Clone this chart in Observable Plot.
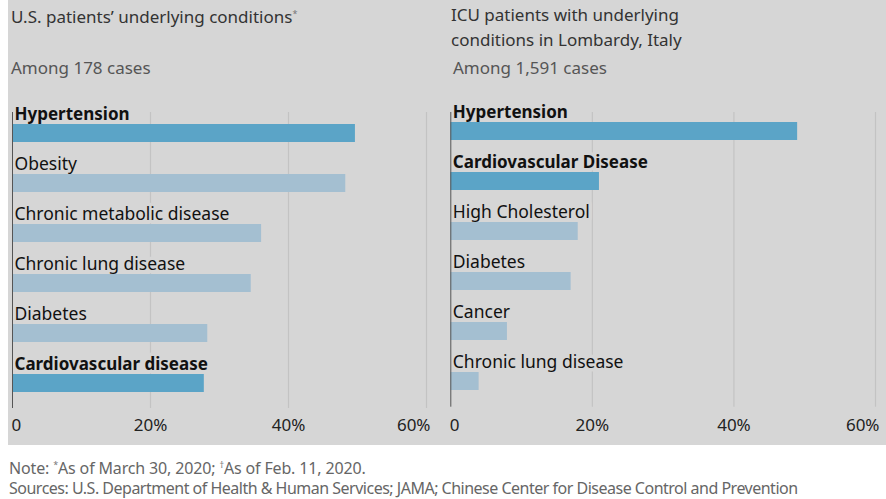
<!DOCTYPE html>
<html><head><meta charset="utf-8">
<script src="https://cdn.jsdelivr.net/npm/d3@7"></script>
<script src="https://cdn.jsdelivr.net/npm/@observablehq/plot@0.6"></script>
<style>
body{margin:0;font-family:"Noto Sans",sans-serif;background:#fff;width:886px;height:499px;overflow:hidden;position:relative;}
#bg{position:absolute;left:8px;top:0;width:878px;height:445px;background:#d6d6d6;}
.t{position:absolute;font-size:17px;line-height:25px;color:#333;white-space:nowrap;}
.s{color:#555;}
.n{position:absolute;left:9px;font-size:16px;line-height:20px;color:#666;white-space:nowrap;}
sup{font-size:9px;vertical-align:6px;line-height:0;color:#777;}
.p{position:absolute;top:90px;}
</style></head><body>
<div id="bg"></div>
<div class="t" style="left:11px;top:4px">U.S. patients’ underlying conditions<sup>*</sup></div>
<div class="t s" style="left:11px;top:55px">Among 178 cases</div>
<div class="t" style="left:451px;top:2px">ICU patients with underlying<br>conditions in Lombardy, Italy</div>
<div class="t s" style="left:453px;top:55px">Among 1,591 cases</div>
<div class="p" id="left" style="left:0px"></div>
<div class="p" id="right" style="left:440px"></div>
<div class="n" style="top:458px;letter-spacing:-0.15px">Note: <sup>*</sup>As of March 30, 2020; <sup>†</sup>As of Feb. 11, 2020.</div>
<div class="n" style="top:478px;letter-spacing:-0.5px">Sources: U.S. Department of Health &amp; Human Services; JAMA; Chinese Center for Disease Control and Prevention</div>
<script>
const usConditions = ["Hypertension","Obesity","Chronic metabolic disease","Chronic lung disease","Diabetes","Cardiovascular disease"];
const usValues = [49.7,48.3,36.1,34.6,28.3,27.8];
const usHighlight = [true,false,false,false,false,true];
const itConditions = ["Hypertension","Cardiovascular Disease","High Cholesterol","Diabetes","Cancer","Chronic lung disease"];
const itValues = [49,21,18,17,8,4];
const itHighlight = [true,true,false,false,false,false];
const xTicks = [0,20,40,60];

const BG = "#d6d6d6";
function panel(conds, vals, hl, o) {
  const data = conds.map((c,i)=>({c, v: vals[i], hl: hl[i]}));
  const fmt = d => d === 0 ? "0" : d + "%";
  const lab = (bold) => Plot.text(data.filter(d=>d.hl===bold), {
    x: 0, y: "c", text: "c", textAnchor: "start", lineAnchor: "bottom",
    dx: 2, dy: -13.5, fontSize: bold ? 17 : 17.5, fontWeight: bold ? "bold" : "normal",
    fill: "#111", stroke: BG, strokeWidth: 7, paintOrder: "stroke"
  });
  return Plot.plot({
    width: o.width, height: 350,
    marginLeft: o.ml, marginRight: o.mr, marginTop: 22, marginBottom: o.mb,
    style: {fontFamily: "Noto Sans", background: "transparent", overflow: "visible"},
    x: {domain: [0, 60], axis: null},
    y: {domain: conds, range: o.yr, paddingInner: 0.643, paddingOuter: 0, axis: null},
    marks: [
      Plot.ruleX(xTicks.filter(d=>d>0), {stroke: "#c3c3c3", strokeWidth: 1.2}),
      lab(true), lab(false),
      Plot.barX(data, {x: "v", y: "c", fill: d => d.hl ? "#5ba4c7" : "#a4bfd1"}),
      Plot.ruleX([0], {stroke: "#555", strokeWidth: 1}),
      Plot.text(xTicks.slice(0,1), {x: d=>d, text: fmt, frameAnchor: "bottom", lineAnchor: "bottom", textAnchor: "start", dx: -1, dy: o.tdy, fontSize: 17, fill: "#222"}),
      Plot.text(xTicks.slice(1,-1), {x: d=>d, text: fmt, frameAnchor: "bottom", lineAnchor: "bottom", textAnchor: "middle", dy: o.tdy, fontSize: 17, fill: "#222"}),
      Plot.text(xTicks.slice(-1), {x: d=>d, text: fmt, frameAnchor: "bottom", lineAnchor: "bottom", textAnchor: "end", dx: 4, dy: o.tdy, fontSize: 17, fill: "#222"})
    ]
  });
}
document.getElementById("left").append(panel(usConditions, usValues, usHighlight, {width: 440, ml: 12, mr: 14, mb: 32, yr: [33, 303], tdy: 22.7}));
document.getElementById("right").append(panel(itConditions, itValues, itHighlight, {width: 446, ml: 10.3, mr: 11, mb: 33.3, yr: [30.7, 300.7], tdy: 24}));
</script>
</body></html>
